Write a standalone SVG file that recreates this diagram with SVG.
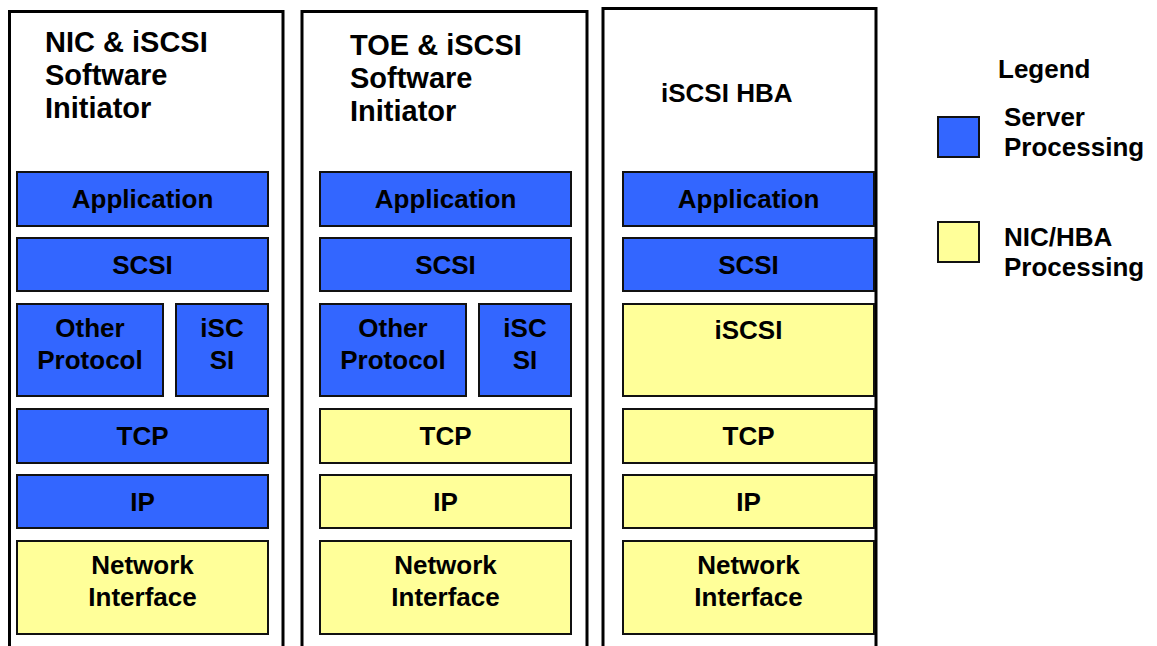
<svg xmlns="http://www.w3.org/2000/svg" width="1157" height="646" viewBox="0 0 1157 646">
<style>
.frame{fill:none;stroke:#000;stroke-width:3}
.b{fill:#3366FF;stroke:#111;stroke-width:2}
.y{fill:#FFFF99;stroke:#111;stroke-width:2}
text{font-family:"Liberation Sans",Arial,sans-serif;font-weight:bold;fill:#000}
.t{font-size:26px;text-anchor:middle}
.h{font-size:29px}
.l{font-size:26px}
</style>
<rect width="1157" height="646" fill="#fff"/>
<g id="col1">
<path class="frame" d="M9.5 646V11.5H283V646"/>
<text class="h" x="45" y="52">NIC &amp; iSCSI</text>
<text class="h" x="45" y="85">Software</text>
<text class="h" x="45" y="118">Initiator</text>
</g>
<g id="c1-app"><rect class="b" x="17" y="172" width="251" height="54"/><text class="t" x="142.5" y="208">Application</text></g>
<g id="c1-scsi"><rect class="b" x="17" y="238" width="251" height="53"/><text class="t" x="142.5" y="274">SCSI</text></g>
<g id="c1-other"><rect class="b" x="17" y="304" width="146" height="92"/><text class="t" x="90" y="337">Other</text><text class="t" x="90" y="369">Protocol</text></g>
<g id="c1-iscsi"><rect class="b" x="176" y="304" width="92" height="92"/><text class="t" x="222" y="337">iSC</text><text class="t" x="222" y="369">SI</text></g>
<g id="c1-tcp"><rect class="b" x="17" y="409" width="251" height="54"/><text class="t" x="142.5" y="445">TCP</text></g>
<g id="c1-ip"><rect class="b" x="17" y="475" width="251" height="53"/><text class="t" x="142.5" y="511">IP</text></g>
<g id="c1-ni"><rect class="y" x="17" y="541" width="251" height="93"/><text class="t" x="142.5" y="574">Network</text><text class="t" x="142.5" y="606">Interface</text></g>

<g id="col2">
<path class="frame" d="M302 646V11.5H587V646"/>
<text class="h" x="350" y="55">TOE &amp; iSCSI</text>
<text class="h" x="350" y="88">Software</text>
<text class="h" x="350" y="121">Initiator</text>
</g>
<g id="c2-app"><rect class="b" x="320" y="172" width="251" height="54"/><text class="t" x="445.5" y="208">Application</text></g>
<g id="c2-scsi"><rect class="b" x="320" y="238" width="251" height="53"/><text class="t" x="445.5" y="274">SCSI</text></g>
<g id="c2-other"><rect class="b" x="320" y="304" width="146" height="92"/><text class="t" x="393" y="337">Other</text><text class="t" x="393" y="369">Protocol</text></g>
<g id="c2-iscsi"><rect class="b" x="479" y="304" width="92" height="92"/><text class="t" x="525" y="337">iSC</text><text class="t" x="525" y="369">SI</text></g>
<g id="c2-tcp"><rect class="y" x="320" y="409" width="251" height="54"/><text class="t" x="445.5" y="445">TCP</text></g>
<g id="c2-ip"><rect class="y" x="320" y="475" width="251" height="53"/><text class="t" x="445.5" y="511">IP</text></g>
<g id="c2-ni"><rect class="y" x="320" y="541" width="251" height="93"/><text class="t" x="445.5" y="574">Network</text><text class="t" x="445.5" y="606">Interface</text></g>

<g id="col3">
<path class="frame" d="M603 646V8.5H876V646"/>
<text class="l" x="661" y="102">iSCSI HBA</text>
</g>
<g id="c3-app"><rect class="b" x="623" y="172" width="251" height="54"/><text class="t" x="748.5" y="208">Application</text></g>
<g id="c3-scsi"><rect class="b" x="623" y="238" width="251" height="53"/><text class="t" x="748.5" y="274">SCSI</text></g>
<g id="c3-iscsi"><rect class="y" x="623" y="304" width="251" height="92"/><text class="t" x="748.5" y="339">iSCSI</text></g>
<g id="c3-tcp"><rect class="y" x="623" y="409" width="251" height="54"/><text class="t" x="748.5" y="445">TCP</text></g>
<g id="c3-ip"><rect class="y" x="623" y="475" width="251" height="53"/><text class="t" x="748.5" y="511">IP</text></g>
<g id="c3-ni"><rect class="y" x="623" y="541" width="251" height="93"/><text class="t" x="748.5" y="574">Network</text><text class="t" x="748.5" y="606">Interface</text></g>

<g id="legend">
<text class="l" x="998" y="78">Legend</text>
<rect class="b" x="938" y="117" width="41" height="40"/>
<text class="l" x="1004" y="126">Server</text>
<text class="l" x="1004" y="156">Processing</text>
<rect class="y" x="938" y="222" width="41" height="40"/>
<text class="l" x="1004" y="246">NIC/HBA</text>
<text class="l" x="1004" y="276">Processing</text>
</g>
<g id="connectors"/>
</svg>
